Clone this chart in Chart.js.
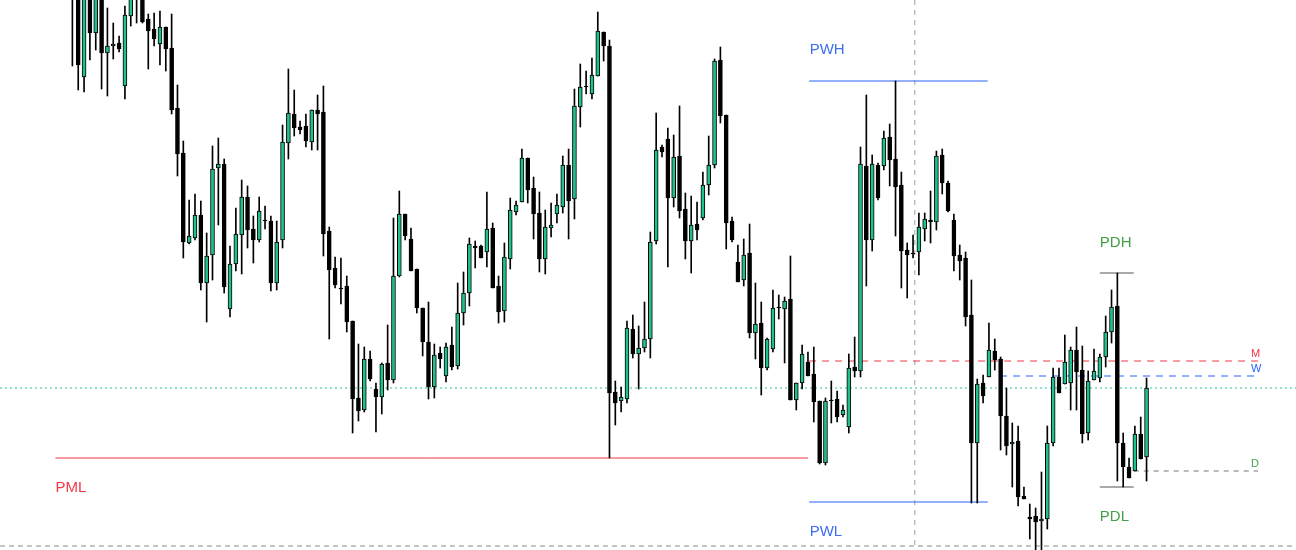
<!DOCTYPE html>
<html>
<head>
<meta charset="utf-8">
<script src="https://cdn.jsdelivr.net/npm/chart.js@4/dist/chart.umd.min.js"></script>
<style>
  html, body { margin: 0; padding: 0; background: #ffffff; }
  #wrap { width: 1296px; height: 550px; position: relative; }
</style>
</head>
<body>
<div id="wrap"><canvas id="grafico"></canvas></div>
<script>
// precios en unidades de pantalla (eje invertido), una vela por indice
const opens = [-20,-10,77,-10,33,-10,53,46,43,86,16,-15,-5,19,29,44,27,48,108,153,243,238,215,283,255,168,164,309,264,235,197,229,240,220,221,283,240,143,114,127,126,142,110,112,231,268,288,286,321,398,410,359,389,397,363,380,276,214,239,269,308,342,387,353,376,345,366,313,293,246,246,252,228,286,311,259,212,202,158,188,213,259,228,214,207,165,199,107,86,94,76,32,46,392,401,399,329,354,348,339,241,147,139,198,156,209,241,224,218,185,165,60,115,221,262,280,253,333,323,368,349,307,309,299,400,383,362,374,401,463,400,399,415,427,367,371,166,240,165,166,137,159,185,250,253,252,229,220,222,155,183,220,255,258,315,443,383,377,351,359,416,444,441,496,517,516,521,519,443,377,384,383,350,370,433,380,378,357,332,306,443,467,471,434,457];
const highs = [-30,-20,-10,-20,-10,-20,8,23,36,6,-10,-20,-10,14,13,11,27,14,85,141,200,194,201,233,146,138,159,246,208,180,186,216,197,206,216,221,125,69,90,121,114,110,95,86,227,257,258,276,321,344,347,351,383,363,325,218,191,214,228,269,308,302,344,347,343,327,283,272,238,241,245,192,223,276,243,198,201,149,158,177,192,210,203,194,156,149,89,64,71,58,12,32,40,381,387,321,315,326,302,232,113,145,128,135,106,193,196,202,172,136,59,47,115,217,245,239,224,283,302,338,290,295,297,256,383,345,352,347,401,398,381,391,405,354,337,147,95,155,163,131,124,81,172,243,235,213,213,191,151,149,181,214,245,252,280,379,375,323,339,357,388,423,426,487,504,508,472,426,368,368,335,347,327,346,371,349,354,316,290,273,433,458,426,417,378];
const lows = [66,90,92,60,50,89,96,59,52,99,26,23,23,69,46,65,71,114,176,258,244,240,290,322,280,225,293,317,271,274,248,263,242,229,291,290,248,159,136,134,147,150,150,256,339,288,304,332,433,421,412,381,432,414,390,383,277,240,271,313,356,399,398,368,382,370,369,325,306,268,258,267,288,323,322,269,215,202,203,239,272,274,237,223,213,239,219,127,94,99,76,61,458,425,412,403,358,389,352,358,244,157,267,207,218,259,273,240,220,195,168,123,249,242,282,286,338,359,395,370,352,319,363,400,410,389,376,422,464,465,423,422,417,433,377,377,286,251,200,170,186,236,288,298,258,275,241,243,230,194,212,271,280,326,503,503,403,377,370,450,455,487,506,499,539,550,550,529,446,393,384,410,410,443,440,380,382,367,343,481,487,478,471,459,481];
const closes = [-5,65,-5,33,-5,53,46,44,49,15,-5,-5,22,31,39,27,49,110,154,242,236,215,283,256,169,164,287,264,234,197,230,240,211,221,283,242,142,113,128,130,141,110,114,234,270,285,289,322,399,411,359,379,397,364,380,276,214,236,271,308,342,387,355,359,347,367,313,293,244,248,258,229,288,312,257,210,205,158,190,214,259,227,225,205,165,201,106,87,87,75,31,46,393,403,397,328,354,348,339,242,150,152,198,157,211,241,225,230,185,165,61,116,223,240,282,255,333,324,368,339,308,308,301,400,383,354,376,402,463,401,401,417,410,368,371,164,240,164,198,138,160,187,251,255,254,227,219,222,156,183,211,256,261,317,443,384,396,350,360,416,446,442,497,499,519,522,519,443,377,393,362,350,372,434,381,371,357,332,307,443,467,478,434,459,388];

// niveles: valor, desde/hasta (indice de vela)
const levelNames  = ["PML", "PWH", "PWL", "M", "W", "PDH", "PDL", "D", "actual", "base"];
const levelValues = [458, 81, 502, 361, 376, 273, 487, 471, 388, 546];
const levelFrom   = [-2.9, 126.2, 126.2, 126.2, 158.9, 176, 176, 181.8, -12.4, -12.4];
const levelTo     = [126.0, 156.8, 156.8, 203.1, 203.1, 181.8, 181.8, 203.1, 209.6, 209.6];
const sessionBreak = 144.3; // linea vertical punteada

const estilos = {
  PML:   { color: "#f23645", dash: [] },
  PWH:   { color: "#2962ff", dash: [] },
  PWL:   { color: "#2962ff", dash: [] },
  M:     { color: "#f23645", dash: [7, 6] },
  W:     { color: "#2962ff", dash: [7, 6] },
  PDH:   { color: "#555555", dash: [] },
  PDL:   { color: "#555555", dash: [] },
  D:     { color: "#777777", dash: [5, 5] },
  actual:{ color: "#22c59a", dash: [2, 3] },
  base:  { color: "#888888", dash: [5, 4] }
};

// etiquetas de texto: nombre, indice x, valor y, tamano, color
const textos = [
  ["PWH", 126.3, 50, 15, "#3d6ff0"],
  ["PWL", 126.3, 532, 15, "#3d6ff0"],
  ["PML", -2.9, 488, 15, "#f23645"],
  ["PDH", 176, 243, 15, "#43a047"],
  ["PDL", 176, 517, 15, "#43a047"],
  ["M", 201.9, 354, 11, "#f23645"],
  ["W", 201.9, 369, 11, "#2962ff"],
  ["D", 201.9, 464, 11, "#43a047"]
];

const wicks = opens.map((o, i) => ({ x: i, y: [highs[i], lows[i]] }));
const bodies = opens.map((o, i) => ({ x: i, y: [o, closes[i] === o ? o + 1 : closes[i]] }));
const sube = opens.map((o, i) => closes[i] < o);

const lineSets = levelNames.map((n, k) => ({
  type: "line",
  data: [{ x: levelFrom[k], y: levelValues[k] }, { x: levelTo[k], y: levelValues[k] }],
  borderColor: estilos[n].color,
  borderDash: estilos[n].dash,
  borderWidth: 1,
  pointRadius: 0,
  order: 5
}));
lineSets.push({
  type: "line",
  data: [{ x: sessionBreak, y: 0 }, { x: sessionBreak, y: 550 }],
  borderColor: "#a0a0a0",
  borderDash: [5, 5],
  borderWidth: 1,
  pointRadius: 0,
  order: 6
});

const textPlugin = {
  id: "textos",
  afterDatasetsDraw(chart) {
    const { ctx, scales } = chart;
    ctx.save();
    textos.forEach(([t, xi, yv, size, color]) => {
      ctx.font = size + "px 'Liberation Sans', Arial, sans-serif";
      ctx.fillStyle = color;
      ctx.textBaseline = "middle";
      ctx.fillText(t, scales.x.getPixelForValue(xi), scales.y.getPixelForValue(yv));
    });
    ctx.restore();
  }
};

new Chart(document.getElementById("grafico").getContext("2d"), {
  type: "bar",
  data: {
    datasets: [
      {
        data: wicks,
        backgroundColor: "#000000",
        barThickness: 1,
        grouped: false,
        order: 2
      },
      {
        data: bodies,
        backgroundColor: sube.map(s => s ? "#1fbf8f" : "#000000"),
        borderColor: "#000000",
        borderWidth: 1,
        borderSkipped: false,
        barThickness: 4,
        grouped: false,
        order: 1
      },
      ...lineSets
    ]
  },
  options: {
    responsive: true,
    maintainAspectRatio: false,
    animation: false,
    layout: { padding: 0 },
    plugins: { legend: { display: false }, tooltip: { enabled: false } },
    scales: {
      x: { type: "linear", min: -12.4, max: 209.6, offset: false, display: false, grid: { offset: false } },
      y: { min: 0, max: 550, reverse: true, display: false }
    }
  },
  plugins: [textPlugin]
});
</script>
</body>
</html>
